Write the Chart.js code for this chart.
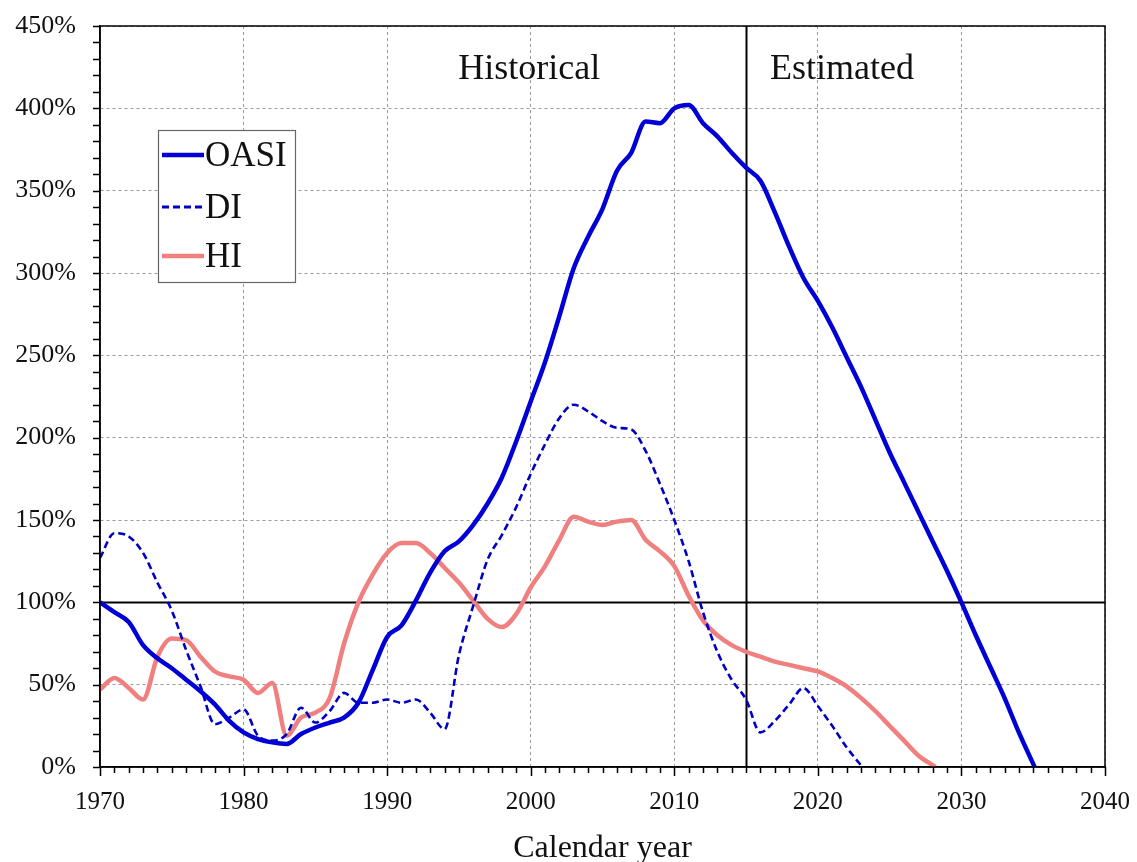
<!DOCTYPE html>
<html>
<head>
<meta charset="utf-8">
<script src="https://cdn.jsdelivr.net/npm/chart.js@4.4.1/dist/chart.umd.min.js"></script>
<style>
  html, body { margin: 0; padding: 0; background: #fff; }
  #wrap { width: 1137px; height: 862px; }
</style>
</head>
<body>
<div id="wrap"><canvas id="chart" width="1137" height="862"></canvas></div>
<script>
// trust fund ratios, percent of annual cost
const oasiYears = [1970,1971,1972,1973,1974,1975,1976,1977,1978,1979,1980,1981,1982,1983,1984,1985,1986,1987,1988,1989,
  1990,1991,1992,1993,1994,1995,1996,1997,1998,1999,2000,2001,2002,2003,2004,2005,2006,2007,2008,2009,
  2010,2011,2012,2013,2014,2015,2016,2017,2018,2019,2020,2021,2022,2023,2024,2025,2026,2027,2028,2029,
  2030,2031,2032,2033,2034,2035.1];
const oasiValues = [100,94,88,74,66,60,53,46,38,28,21,17,15,14,20,24,27,30,39,59,
  79,86,101,118,131,137,147,160,176,198,222,246,274,303,322,339,362,373,392,391,
  400,402,391,383,373,364,356,337,316,297,283,267,249,231,211,191,173,155,137,119,
  100,80,61,42,21,0];

const diYears = [1970,1971,1972,1973,1974,1975,1976,1977,1978,1979,1980,1981,1982,1983,1984,1985,1986,1987,1988,1989,
  1990,1991,1992,1993,1994,1995,1996,1997,1998,1999,2000,2001,2002,2003,2004,2005,2006,2007,2008,2009,
  2010,2011,2012,2013,2014,2015,2016,2017,2018,2019,2020,2021,2022,2023.1];
const diValues = [127,142,140,130,112,95,71,49,26,30,35,19,16,20,36,27,34,45,39,39,
  41,39,41,33,23,68,98,126,141,158,178,196,212,220,216,210,206,205,192,172,
  150,125,94,70,53,41,21,28,38,48,37,25,12,0];

const hiYears = [1970,1971,1972,1973,1974,1975,1976,1977,1978,1979,1980,1981,1982,1983,1984,1985,1986,1987,1988,1989,
  1990,1991,1992,1993,1994,1995,1996,1997,1998,1999,2000,2001,2002,2003,2004,2005,2006,2007,2008,2009,
  2010,2011,2012,2013,2014,2015,2016,2017,2018,2019,2020,2021,2022,2023,2024,2025,2026,2027,2028.2];
const hiValues = [47,54,48,41,67,78,77,67,58,55,53,45,51,19,30,33,42,75,100,117,
  130,136,136,130,121,112,101,90,85,93,109,122,138,152,149,147,149,150,138,131,
  122,104,89,80,74,70,67,64,62,60,58,54,49,42,34,25,16,7,0];

const seriesNames = ['OASI', 'DI', 'HI'];
const yTicks = [0, 50, 100, 150, 200, 250, 300, 350, 400, 450];
const xTicks = [1970, 1980, 1990, 2000, 2010, 2020, 2030, 2040];
const periodLabels = ['Historical', 'Estimated'];
const splitYear = 2015;

const SERIF = "'Liberation Serif', 'Times New Roman', serif";
const colors = { OASI: '#0000d6', DI: '#0000c4', HI: '#f08080' };

function toPoints(xs, ys) {
  return xs.map((x, i) => ({ x: x, y: ys[i] }));
}

// reference lines at 100% and at the split year
const refLines = {
  id: 'refLines',
  beforeDatasetsDraw(chart) {
    const { ctx, chartArea: a, scales: { x, y } } = chart;
    ctx.save();
    ctx.strokeStyle = '#000';
    ctx.lineWidth = 2;
    const y100 = Math.round(y.getPixelForValue(100)) + 0.5;
    ctx.beginPath(); ctx.moveTo(a.left, y100); ctx.lineTo(a.right, y100); ctx.stroke();
    const xs = Math.round(x.getPixelForValue(splitYear)) + 0.5;
    ctx.beginPath(); ctx.moveTo(xs, a.top); ctx.lineTo(xs, a.bottom); ctx.stroke();
    ctx.restore();
  }
};

// frame, tick marks, labels and the boxed legend
const decorations = {
  id: 'decorations',
  afterDraw(chart) {
    const { ctx, chartArea: a, scales: { x, y } } = chart;
    ctx.save();
    ctx.strokeStyle = '#000';
    ctx.lineWidth = 1.5;
    ctx.strokeRect(a.left, a.top, a.right - a.left, a.bottom - a.top);

    // tick marks outside the frame
    ctx.beginPath();
    for (let yr = 1970; yr <= 2040; yr++) {
      const px = Math.round(x.getPixelForValue(yr)) + 0.5;
      ctx.moveTo(px, a.bottom);
      ctx.lineTo(px, a.bottom + (yr % 10 === 0 ? 9 : 6));
    }
    for (let v = 0; v <= 450; v += 10) {
      const py = Math.round(y.getPixelForValue(v)) + 0.5;
      ctx.moveTo(a.left, py);
      ctx.lineTo(a.left - 7, py);
    }
    ctx.stroke();

    // period labels
    ctx.fillStyle = '#111';
    ctx.font = '36px ' + SERIF;
    ctx.textBaseline = 'alphabetic';
    ctx.textAlign = 'center';
    ctx.fillText(periodLabels[0], x.getPixelForValue(1999.9), 79);
    ctx.textAlign = 'left';
    ctx.fillText(periodLabels[1], x.getPixelForValue(splitYear) + 24, 79);

    // axis title
    ctx.textAlign = 'center';
    ctx.font = '32px ' + SERIF;
    ctx.fillText('Calendar year', (a.left + a.right) / 2, 857);

    // legend box
    const lx = 158, ly = 130, lw = 137, lh = 152;
    ctx.fillStyle = '#fff';
    ctx.fillRect(lx, ly, lw, lh);
    ctx.strokeStyle = '#666';
    ctx.lineWidth = 1.2;
    ctx.strokeRect(lx + 0.5, ly + 0.5, lw, lh);
    const rows = [155, 207, 256];
    chart.data.datasets.forEach((ds, i) => {
      ctx.save();
      ctx.strokeStyle = ds.borderColor;
      ctx.lineWidth = ds.borderWidth < 3 ? 3 : ds.borderWidth;
      ctx.setLineDash(ds.borderDash || []);
      ctx.beginPath();
      ctx.moveTo(162, rows[i]);
      ctx.lineTo(204, rows[i]);
      ctx.stroke();
      ctx.restore();
      ctx.fillStyle = '#111';
      ctx.font = '35px ' + SERIF;
      ctx.textAlign = 'left';
      ctx.textBaseline = 'middle';
      ctx.fillText(ds.label, 205, rows[i] + 2);
    });
    ctx.restore();
  }
};

new Chart(document.getElementById('chart'), {
  type: 'line',
  data: {
    datasets: [
      {
        label: seriesNames[0],
        data: toPoints(oasiYears, oasiValues),
        borderColor: colors.OASI,
        borderWidth: 4.5,
        pointRadius: 0,
        cubicInterpolationMode: 'monotone'
      },
      {
        label: seriesNames[1],
        data: toPoints(diYears, diValues),
        borderColor: colors.DI,
        borderWidth: 2.6,
        borderDash: [7, 4],
        pointRadius: 0,
        cubicInterpolationMode: 'monotone'
      },
      {
        label: seriesNames[2],
        data: toPoints(hiYears, hiValues),
        borderColor: colors.HI,
        borderWidth: 4.5,
        pointRadius: 0,
        cubicInterpolationMode: 'monotone'
      }
    ]
  },
  options: {
    responsive: false,
    animation: false,
    layout: { padding: { top: 26, right: 32, left: 0, bottom: 0 } },
    plugins: {
      legend: { display: false },
      tooltip: { enabled: false }
    },
    scales: {
      x: {
        type: 'linear',
        min: 1970,
        max: 2040,
        afterBuildTicks: s => { s.ticks = xTicks.map(v => ({ value: v })); },
        afterFit: s => { s.height = 95; s.paddingLeft = 0; s.paddingRight = 0; },
        ticks: {
          font: { family: SERIF, size: 25 },
          color: '#111',
          padding: 20,
          maxRotation: 0,
          callback: v => String(v)
        },
        grid: { color: '#9a9a9a', lineWidth: 1, drawTicks: false },
        border: { display: true, color: '#000', width: 1.5, dash: [3, 3] }
      },
      y: {
        min: 0,
        max: 450,
        afterBuildTicks: s => { s.ticks = yTicks.map(v => ({ value: v })); },
        afterFit: s => { s.width = 100; s.paddingTop = 0; s.paddingBottom = 0; },
        ticks: {
          font: { family: SERIF, size: 26 },
          color: '#111',
          padding: 24,
          callback: v => v + '%'
        },
        grid: { color: '#9a9a9a', lineWidth: 1, drawTicks: false },
        border: { display: true, color: '#000', width: 1.5, dash: [3, 3] }
      }
    }
  },
  plugins: [refLines, decorations]
});
</script>
</body>
</html>
